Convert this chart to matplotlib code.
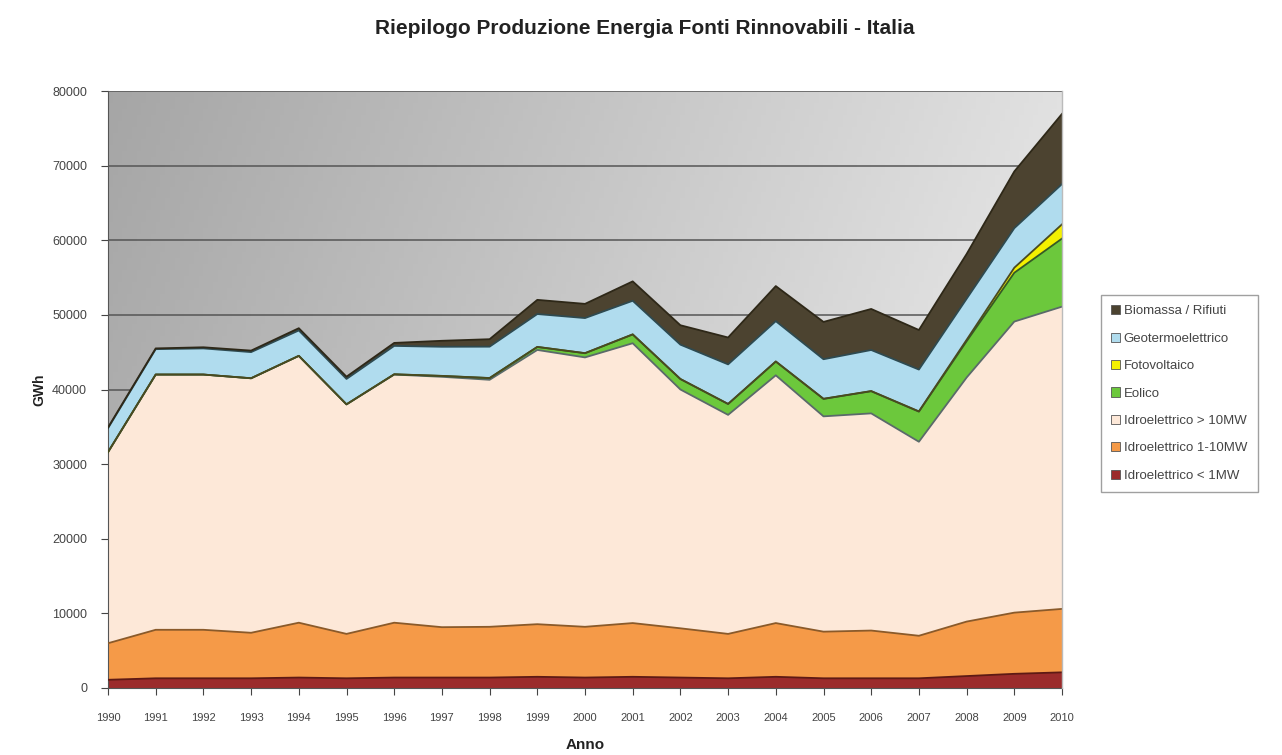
import numpy as np
import matplotlib
matplotlib.use("Agg")
import matplotlib.pyplot as plt
from matplotlib.patches import Patch

plt.rcParams['font.family'] = ['Liberation Sans', 'DejaVu Sans']

# Produzione annua in GWh per fonte
anni = list(range(1990, 2011))
idro_lt1 = [1100, 1300, 1300, 1300, 1400, 1300, 1400, 1400, 1400, 1500, 1400,
            1500, 1400, 1300, 1500, 1300, 1300, 1300, 1600, 1900, 2100]
idro_1_10 = [4900, 6500, 6500, 6100, 7350, 5950, 7350, 6750, 6800, 7050, 6800,
             7200, 6600, 5950, 7200, 6250, 6400, 5700, 7300, 8200, 8500]
idro_gt10 = [25600, 34200, 34200, 34100, 35750, 30750, 33250, 33550, 33100, 36750, 36100,
             37500, 32000, 29350, 33200, 28850, 29100, 26000, 32700, 39000, 40500]
eolico = [2, 2, 1, 4, 7, 10, 33, 118, 231, 403, 563,
          1179, 1400, 1458, 1847, 2343, 2971, 4034, 4861, 6543, 9126]
fotovoltaico = [4, 5, 6, 7, 7, 8, 9, 9, 9, 9, 10,
                10, 10, 10, 11, 13, 22, 39, 193, 676, 1906]
geotermico = [3200, 3400, 3500, 3500, 3400, 3400, 3800, 3900, 4200, 4400, 4700,
              4500, 4600, 5300, 5400, 5300, 5500, 5600, 5500, 5300, 5400]
biomassa = [100, 100, 150, 200, 300, 300, 400, 800, 1000, 1900, 1900,
            2600, 2600, 3600, 4700, 5000, 5500, 5300, 6000, 7600, 9400]

serie = [idro_lt1, idro_1_10, idro_gt10, eolico, fotovoltaico, geotermico, biomassa]
nomi = ["Idroelettrico < 1MW", "Idroelettrico 1-10MW", "Idroelettrico > 10MW",
        "Eolico", "Fotovoltaico", "Geotermoelettrico", "Biomassa / Rifiuti"]
colori = ["#9b2b2b", "#f59a48", "#fde8d8", "#6cc83c", "#f4f000", "#b0dcee", "#4c4330"]
bordi = ["#5e1a14", "#8a5a2a", "#5a6a6a", "#355a25", "#4a4a20", "#2e4a50", "#2e2818"]

fig = plt.figure(figsize=(12.82, 7.55), dpi=100)
ax = fig.add_axes([108 / 1282, 1 - 688 / 755, (1062 - 108) / 1282, (688 - 91) / 755])

# sfondo sfumato dell'area del grafico
nx, ny = 200, 100
xn = np.linspace(0, 1, nx)[None, :]
yd = np.linspace(0, 1, ny)[:, None]
grad = 0.65 + 0.29 * (0.8 * xn + 0.2 * yd)
ax.imshow(np.dstack([grad, grad, grad]), extent=[1990, 2010, 0, 80000],
          aspect='auto', origin='upper', zorder=0)

for y in range(10000, 80001, 10000):
    ax.axhline(y, color="#555555", lw=1.1, zorder=1)

base = np.zeros(len(anni))
for vals, col, bc in zip(serie, colori, bordi):
    top = base + np.array(vals, dtype=float)
    ax.fill_between(anni, base, top, facecolor=col, edgecolor='none', zorder=2)
    ax.plot(anni, top, color=bc, lw=1.3, zorder=3)
    base = top

ax.set_xlim(1990, 2010)
ax.set_ylim(0, 80000)
ax.set_xticks(anni)
ax.set_yticks(range(0, 80001, 10000))
ax.tick_params(axis='both', colors="#444444", length=5, width=0.8)
ax.tick_params(axis='x', labelsize=8, pad=13)
ax.tick_params(axis='y', labelsize=9, pad=10)
for s in ['top', 'right']:
    ax.spines[s].set_visible(False)
ax.spines['left'].set_color("#555555")
ax.spines['bottom'].set_color("#555555")
ax.plot([2010, 2010], [0, 80000], color="#bbbbbb", lw=1, zorder=4, clip_on=False)

ax.set_xlabel("Anno", fontsize=11, fontweight='bold', color="#222222", labelpad=11)
ax.set_ylabel("GWh", fontsize=10, fontweight='bold', color="#222222", labelpad=4)

fig.text(0.503, 0.962, "Riepilogo Produzione Energia Fonti Rinnovabili - Italia",
         ha='center', va='center', fontsize=15, fontweight='bold', color="#222222")

handles = [Patch(facecolor=c, edgecolor="#555555", lw=0.6) for c in colori]
leg = fig.legend(handles[::-1], nomi[::-1], loc='upper left',
                 bbox_to_anchor=(1094 / 1282, 1 - 288 / 755),
                 fontsize=9.5, frameon=True, fancybox=False, borderpad=0.8,
                 labelspacing=1.15, handlelength=0.7, handleheight=0.7,
                 handletextpad=0.25)
leg.get_frame().set_edgecolor("#888888")
leg.get_frame().set_linewidth(1.0)
for t in leg.get_texts():
    t.set_color("#444444")

fig.savefig("out.png", dpi=100)
